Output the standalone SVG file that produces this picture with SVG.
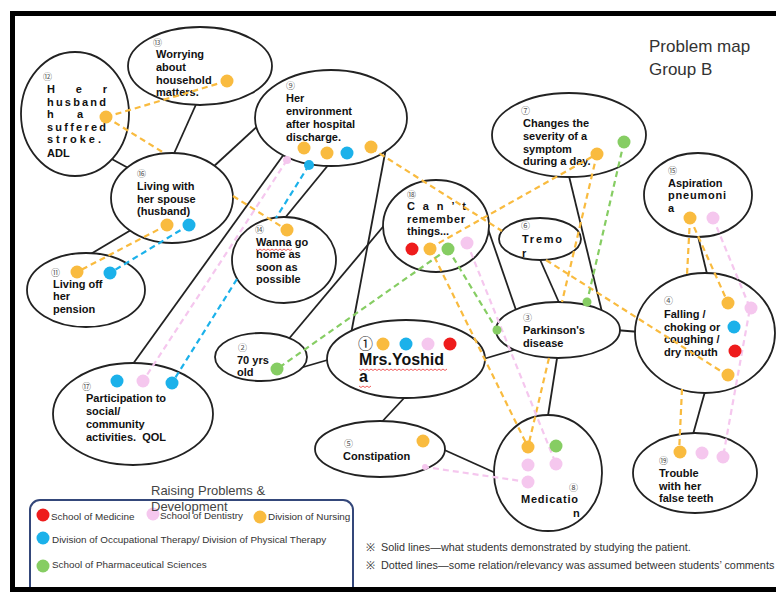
<svg xmlns="http://www.w3.org/2000/svg" width="776" height="592" viewBox="0 0 776 592">
<style>
.nd ellipse{fill:#fff;stroke:#222;stroke-width:1.8}
.t{font-family:"Liberation Sans",Arial,sans-serif;font-weight:bold;font-size:11px;fill:#111}
.num{font-family:"Noto Sans CJK JP","DejaVu Sans",sans-serif;font-size:9px;fill:#555}
.solid line{stroke:#222;stroke-width:1.8}
.d{fill:none;stroke-width:2.2;stroke-dasharray:6 4}
.o{stroke:#f9bb3f}.b{stroke:#1bb1ea}.p{stroke:#f5c7ee}.g{stroke:#86cd63}
.fo{fill:#f9bb3f}.fb{fill:#1bb1ea}.fp{fill:#f5c7ee}.fg{fill:#86cd63}.fr{fill:#ee1c1c}
.lg{font-family:"Liberation Sans",Arial,sans-serif;font-size:9.9px;fill:#333}
.nt{font-family:"Liberation Sans",Arial,sans-serif;font-size:10.8px;fill:#333}
.sq{fill:none;stroke:#e33;stroke-width:0.8}
</style>
<rect width="776" height="592" fill="#fff"/>

<g id="solid-connectors" class="solid">
<line x1="198" y1="100" x2="172" y2="158"/>
<line x1="108" y1="157" x2="132" y2="170"/>
<line x1="212" y1="168" x2="262" y2="122"/>
<line x1="131" y1="230" x2="84" y2="258"/>
<line x1="287" y1="150" x2="130" y2="368"/>
<line x1="334" y1="158" x2="280" y2="224"/>
<line x1="386" y1="148" x2="351" y2="334"/>
<line x1="387" y1="222" x2="287" y2="341"/>
<line x1="300" y1="368" x2="331" y2="359"/>
<line x1="480" y1="360" x2="517" y2="349"/>
<line x1="487" y1="226" x2="517" y2="313"/>
<line x1="538" y1="255" x2="561" y2="307"/>
<line x1="568" y1="172" x2="602" y2="312"/>
<line x1="615" y1="330" x2="640" y2="332"/>
<line x1="558" y1="352" x2="547" y2="422"/>
<line x1="697" y1="232" x2="708" y2="278"/>
<line x1="706" y1="388" x2="692" y2="438"/>
<line x1="406" y1="396" x2="378" y2="426"/>
<line x1="440" y1="448" x2="500" y2="475"/>
</g>

<g id="n13" class="nd"><ellipse cx="200" cy="66" rx="72" ry="39"/>
<text class="num" x="153" y="46">⑬</text>
<text class="t" x="156" y="58">Worrying</text><text class="t" x="156" y="71">about</text><text class="t" x="156" y="84">household</text><text class="t" x="156" y="96">matters.</text></g>

<g id="n12" class="nd"><ellipse cx="75" cy="114" rx="54" ry="62"/>
<text class="num" x="43" y="80">⑫</text>
<text class="t" x="47" y="93" textLength="60" lengthAdjust="spacing">Her</text>
<text class="t" x="47" y="106" textLength="59" lengthAdjust="spacing">husband</text>
<text class="t" x="47" y="118" textLength="36" lengthAdjust="spacing">ha</text>
<text class="t" x="47" y="131" textLength="59" lengthAdjust="spacing">suffered</text>
<text class="t" x="47" y="143" textLength="54" lengthAdjust="spacing">stroke.</text>
<text class="t" x="47" y="157">ADL</text></g>

<g id="n9" class="nd"><ellipse cx="331" cy="118" rx="76" ry="48"/>
<text class="num" x="286" y="89">⑨</text>
<text class="t" x="286" y="102">Her</text><text class="t" x="286" y="115">environment</text><text class="t" x="286" y="128">after hospital</text><text class="t" x="286" y="141">discharge.</text></g>

<g id="n7" class="nd"><ellipse cx="569" cy="135" rx="77" ry="42"/>
<text class="num" x="521" y="114">⑦</text>
<text class="t" x="523" y="127">Changes the</text><text class="t" x="523" y="140">severity of a</text><text class="t" x="523" y="153">symptom</text><text class="t" x="523" y="165">during a day.</text></g>

<g id="n15" class="nd"><ellipse cx="698" cy="195" rx="54" ry="42"/>
<text class="num" x="668" y="174">⑮</text>
<text class="t" x="668" y="187">Aspiration</text>
<text class="t" x="668" y="199" textLength="58" lengthAdjust="spacing">pneumoni</text>
<text class="t" x="668" y="212">a</text></g>

<g id="n16" class="nd"><ellipse cx="172" cy="198" rx="61" ry="45"/>
<text class="num" x="137" y="177">⑯</text>
<text class="t" x="137" y="190">Living with</text><text class="t" x="137" y="203">her spouse</text><text class="t" x="137" y="215">(husband)</text></g>

<g id="n11" class="nd"><ellipse cx="86" cy="290" rx="59" ry="37"/>
<text class="num" x="51" y="276">⑪</text>
<text class="t" x="53" y="288">Living off</text><text class="t" x="53" y="300">her</text><text class="t" x="53" y="313">pension</text></g>

<g id="n14" class="nd"><ellipse cx="284" cy="260" rx="52" ry="43"/>
<text class="num" x="255" y="233">⑭</text>
<text class="t" x="256" y="246">Wanna go</text><text class="t" x="256" y="258">home as</text><text class="t" x="256" y="271">soon as</text><text class="t" x="256" y="283">possible</text>
<path class="sq" d="M256 249 l2 1.5 l2 -1.5 l2 1.5 l2 -1.5 l2 1.5 l2 -1.5 l2 1.5 l2 -1.5 l2 1.5 l2 -1.5 l2 1.5 l2 -1.5 l2 1.5 l2 -1.5 l2 1.5 l2 -1.5 l2 1.5 l2 -1.5"/></g>

<g id="n18" class="nd"><ellipse cx="436" cy="226" rx="53" ry="46"/>
<text class="num" x="407" y="198">⑱</text>
<text class="t" x="407" y="210" textLength="59" lengthAdjust="spacing">Can’t</text>
<text class="t" x="407" y="223" textLength="58" lengthAdjust="spacing">remember</text>
<text class="t" x="407" y="235">things...</text></g>

<g id="n6" class="nd"><ellipse cx="540" cy="239" rx="41" ry="21"/>
<text class="num" x="521" y="229">⑥</text>
<text class="t" x="522" y="243" textLength="40" lengthAdjust="spacing">Tremo</text>
<text class="t" x="522" y="257">r</text></g>

<g id="n3" class="nd"><ellipse cx="558" cy="330" rx="62" ry="28"/>
<text class="num" x="523" y="321">③</text>
<text class="t" x="523" y="334">Parkinson's</text><text class="t" x="523" y="347">disease</text></g>

<g id="n4" class="nd"><ellipse cx="705" cy="333" rx="70" ry="60"/>
<text class="num" x="664" y="304">④</text>
<text class="t" x="664" y="318">Falling /</text><text class="t" x="664" y="331">choking or</text><text class="t" x="664" y="343">coughing /</text><text class="t" x="664" y="356">dry mouth</text></g>

<g id="n2" class="nd"><ellipse cx="261" cy="357" rx="46" ry="24"/>
<text class="num" x="238" y="351">②</text>
<text class="t" x="237" y="364">70 yrs</text><text class="t" x="237" y="376">old</text></g>

<g id="n1" class="nd"><ellipse cx="406" cy="359" rx="79" ry="39"/>
<text x="358" y="349" style="font-family:'Noto Sans CJK JP','DejaVu Sans',sans-serif;font-size:15px;fill:#222">①</text>
<text class="t" x="359" y="365" style="font-size:16px">Mrs.Yoshid</text>
<text class="t" x="359" y="382" style="font-size:16px">a</text>
<path class="sq" d="M359 369 l2 1.5 l2 -1.5 l2 1.5 l2 -1.5 l2 1.5 l2 -1.5 l2 1.5 l2 -1.5 l2 1.5 l2 -1.5 l2 1.5 l2 -1.5 l2 1.5 l2 -1.5 l2 1.5 l2 -1.5 l2 1.5 l2 -1.5 l2 1.5 l2 -1.5 l2 1.5 l2 -1.5 l2 1.5 l2 -1.5 l2 1.5 l2 -1.5 l2 1.5 l2 -1.5 l2 1.5 l2 -1.5 l2 1.5 l2 -1.5 l2 1.5 l2 -1.5 l2 1.5 l2 -1.5 l2 1.5 l2 -1.5 l2 1.5 l2 -1.5 l2 1.5 l2 -1.5 l2 1.5 l2 -1.5 M359 386 l2 1.5 l2 -1.5 l2 1.5 l2 -1.5 l2 1.5 l2 -1.5"/></g>

<g id="n17" class="nd"><ellipse cx="133" cy="414" rx="80" ry="51"/>
<text class="num" x="82" y="390">⑰</text>
<text class="t" x="86" y="402">Participation to</text><text class="t" x="86" y="415">social/</text><text class="t" x="86" y="428">community</text><text class="t" x="86" y="441">activities.&#160; QOL</text></g>

<g id="n5" class="nd"><ellipse cx="380" cy="449" rx="65" ry="28"/>
<text class="num" x="344" y="447">⑤</text>
<text class="t" x="343" y="460">Constipation</text></g>

<g id="n8" class="nd"><ellipse cx="548" cy="473" rx="54" ry="58"/>
<text class="num" x="569" y="491">⑧</text>
<text class="t" x="521" y="503" textLength="57" lengthAdjust="spacing">Medicatio</text>
<text class="t" x="573" y="517">n</text></g>

<g id="n19" class="nd"><ellipse cx="695" cy="473" rx="62" ry="40"/>
<text class="num" x="659" y="464">⑲</text>
<text class="t" x="659" y="477">Trouble</text><text class="t" x="659" y="490">with her</text><text class="t" x="659" y="502">false teeth</text></g>

<g id="dashed-connectors">
<path class="d o" d="M106 117 L227 81"/>
<path class="d o" d="M106 117 L164 153 M233 196 L287 230"/>
<path class="d o" d="M167 225 L77 272"/>
<path class="d b" d="M189 225 L110 273"/>
<path class="d o" d="M371 148 L502 231 M546 260 L727 375"/>
<path class="d o" d="M430 248 L597 154"/>
<path class="d o" d="M597 154 L562 302 M549 358 L528 447"/>
<path class="d o" d="M430 248 L528 447"/>
<path class="d o" d="M690 218 L728 303"/>
<path class="d o" d="M690 218 L687 275 M682 389 L679 453"/>
<path class="d p" d="M528 482 L425 467"/>
<path class="d p" d="M467 243 L556 464"/>
<path class="d p" d="M713 218 L750 308 L723 457"/>
<path class="d p" d="M287 160 L143 381"/>
<path class="d b" d="M309 165 L276 218 M237 279 L172 383"/>
<path class="d g" d="M448 249 L277 369"/>
<path class="d g" d="M448 249 L497 330"/>
<path class="d g" d="M624 142 L587 302"/>
</g>

<g id="dots">
<circle class="fo" cx="227" cy="81" r="6.5"/>
<circle class="fo" cx="106" cy="117" r="6.5"/>
<circle class="fo" cx="304" cy="148" r="6.5"/><circle class="fo" cx="327" cy="153" r="6.5"/><circle class="fb" cx="347" cy="153" r="6.5"/><circle class="fo" cx="371" cy="147" r="6.5"/>
<circle class="fp" cx="287" cy="160" r="4"/><circle class="fb" cx="309" cy="165" r="5"/>
<circle class="fo" cx="167" cy="225" r="6.5"/><circle class="fb" cx="189" cy="225" r="6.5"/>
<circle class="fo" cx="77" cy="272" r="6.5"/><circle class="fb" cx="110" cy="273" r="6.5"/>
<circle class="fo" cx="287" cy="230" r="6.5"/>
<circle class="fr" cx="412" cy="249" r="6.5"/><circle class="fo" cx="430" cy="249" r="6.5"/><circle class="fg" cx="448" cy="249" r="6.5"/><circle class="fp" cx="467" cy="243" r="6.5"/>
<circle class="fo" cx="597" cy="154" r="6.5"/><circle class="fg" cx="624" cy="142" r="6.5"/>
<circle class="fo" cx="690" cy="218" r="6.5"/><circle class="fp" cx="713" cy="218" r="6.5"/>
<circle class="fg" cx="497" cy="330" r="4.5"/><circle class="fg" cx="587" cy="302" r="4.5"/>
<circle class="fo" cx="728" cy="303" r="6.5"/><circle class="fp" cx="751" cy="308" r="6.5"/><circle class="fb" cx="734" cy="327" r="6.5"/><circle class="fr" cx="735" cy="351" r="6.5"/><circle class="fo" cx="728" cy="375" r="6.5"/>
<circle class="fg" cx="277" cy="369" r="6.5"/>
<circle class="fo" cx="383" cy="344" r="6.5"/><circle class="fb" cx="406" cy="344" r="6.5"/><circle class="fp" cx="428" cy="344" r="6.5"/><circle class="fr" cx="450" cy="344" r="6.5"/>
<circle class="fb" cx="117" cy="381" r="6.5"/><circle class="fp" cx="143" cy="381" r="6.5"/><circle class="fb" cx="172" cy="383" r="6.5"/>
<circle class="fo" cx="423" cy="441" r="6.5"/><circle class="fp" cx="425" cy="467" r="3"/>
<circle class="fo" cx="528" cy="447" r="6.5"/><circle class="fg" cx="556" cy="446" r="6.5"/><circle class="fp" cx="528" cy="465" r="6.5"/><circle class="fp" cx="556" cy="464" r="6.5"/><circle class="fp" cx="528" cy="482" r="6.5"/>
<circle class="fo" cx="680" cy="452" r="6.5"/><circle class="fp" cx="702" cy="453" r="6.5"/><circle class="fp" cx="723" cy="457" r="6.5"/>
</g>

<g id="title" style="font-family:'Liberation Sans',Arial,sans-serif;font-size:17px;fill:#333">
<text x="649" y="52">Problem map</text><text x="649" y="75">Group B</text></g>

<g id="legend">
<rect x="30" y="500" width="323" height="100" rx="10" fill="none" stroke="#34477a" stroke-width="2"/>
<circle class="fr" cx="43" cy="515" r="6.5"/><text class="lg" x="51" y="520">School of Medicine</text>
<circle class="fp" cx="153" cy="514" r="6.5"/><text class="lg" x="160" y="519">School of Dentistry</text>
<circle class="fo" cx="260" cy="517" r="6.5"/><text class="lg" x="268" y="520">Division of Nursing</text>
<circle class="fb" cx="43" cy="538" r="6.5"/><text class="lg" x="52" y="543">Division of Occupational Therapy/ Division of Physical Therapy</text>
<circle class="fg" cx="43" cy="566" r="6.5"/><text class="lg" x="52" y="568">School of Pharmaceutical Sciences</text>
<text x="151" y="495" style="font-family:'Liberation Sans',Arial,sans-serif;font-size:13px;fill:#444">Raising Problems &amp;</text>
<text x="151" y="511" style="font-family:'Liberation Sans',Arial,sans-serif;font-size:13px;fill:#444">Development</text>
</g>

<g id="notes" class="nt">
<text x="366" y="551">※&#160; Solid lines—what students demonstrated by studying the patient.</text>
<text x="366" y="569">※&#160; Dotted lines—some relation/relevancy was assumed between students’ comments</text>
</g>

<rect x="12.5" y="13.5" width="800" height="576" fill="none" stroke="#000" stroke-width="5"/>
</svg>
